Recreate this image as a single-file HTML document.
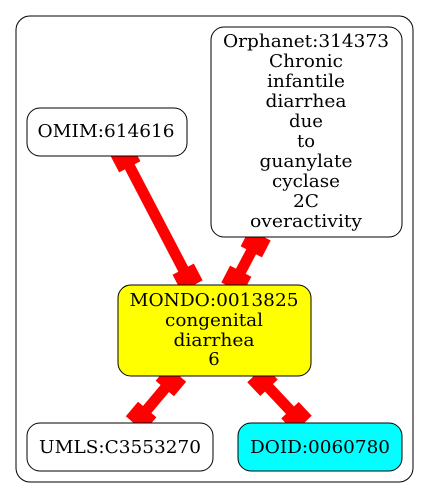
<!DOCTYPE html>
<html><head><style>
html,body{margin:0;padding:0;background:#fff;}
svg{display:block;}
text{font-family:"DejaVu Serif","Liberation Serif",serif;font-size:18px;text-anchor:middle;fill:#000;}
</style></head><body>
<svg width="429" height="499" viewBox="0 0 429 499">
<rect x="16" y="16" width="397" height="466" rx="14" fill="#fff" stroke="#000" stroke-width="1"/>
<g stroke="#ff0000" stroke-linecap="butt">
<line x1="121" y1="150" x2="192" y2="286" stroke-width="11"/>
<line x1="121" y1="150" x2="129.8" y2="166.8" stroke-width="24"/>
<line x1="183.2" y1="269.2" x2="192" y2="286" stroke-width="24"/>
<line x1="260" y1="235" x2="232" y2="288" stroke-width="11"/>
<line x1="260" y1="235" x2="251.3" y2="251.8" stroke-width="24"/>
<line x1="240.7" y1="271.2" x2="232" y2="288" stroke-width="24"/>
<line x1="177" y1="374" x2="135" y2="424" stroke-width="11"/>
<line x1="177" y1="374" x2="164.8" y2="388.5" stroke-width="24"/>
<line x1="147.2" y1="409.5" x2="135" y2="424" stroke-width="24"/>
<line x1="256" y1="374" x2="303" y2="424" stroke-width="11"/>
<line x1="256" y1="374" x2="269" y2="387.8" stroke-width="24"/>
<line x1="290" y1="410.2" x2="303" y2="424" stroke-width="24"/>
</g>
<rect x="27" y="108" width="160" height="48" rx="13" fill="#fff" stroke="#000"/>
<text x="106" y="137" textLength="137" lengthAdjust="spacingAndGlyphs">OMIM:614616</text>
<rect x="211" y="27" width="191" height="210" rx="13" fill="#fff" stroke="#000"/>
<text x="306" y="47" textLength="166" lengthAdjust="spacingAndGlyphs">Orphanet:314373</text>
<text x="306" y="67" textLength="74" lengthAdjust="spacingAndGlyphs">Chronic</text>
<text x="306" y="87" textLength="78" lengthAdjust="spacingAndGlyphs">infantile</text>
<text x="306" y="107" textLength="81" lengthAdjust="spacingAndGlyphs">diarrhea</text>
<text x="306" y="127" textLength="34" lengthAdjust="spacingAndGlyphs">due</text>
<text x="306" y="147" textLength="18" lengthAdjust="spacingAndGlyphs">to</text>
<text x="306" y="167" textLength="93" lengthAdjust="spacingAndGlyphs">guanylate</text>
<text x="306" y="187" textLength="68" lengthAdjust="spacingAndGlyphs">cyclase</text>
<text x="306" y="207" textLength="26" lengthAdjust="spacingAndGlyphs">2C</text>
<text x="306" y="227" textLength="112" lengthAdjust="spacingAndGlyphs">overactivity</text>
<rect x="118" y="285" width="193" height="91" rx="13" fill="#ffff00" stroke="#000"/>
<text x="214" y="306" textLength="169" lengthAdjust="spacingAndGlyphs">MONDO:0013825</text>
<text x="214" y="326" textLength="98" lengthAdjust="spacingAndGlyphs">congenital</text>
<text x="214" y="346" textLength="81" lengthAdjust="spacingAndGlyphs">diarrhea</text>
<text x="214" y="365">6</text>
<rect x="27" y="423" width="186" height="48" rx="13" fill="#fff" stroke="#000"/>
<text x="120" y="453" textLength="162" lengthAdjust="spacingAndGlyphs">UMLS:C3553270</text>
<rect x="238" y="423" width="164" height="48" rx="13" fill="#00ffff" stroke="#000"/>
<text x="320" y="453" textLength="140" lengthAdjust="spacingAndGlyphs">DOID:0060780</text>
</svg>
</body></html>
